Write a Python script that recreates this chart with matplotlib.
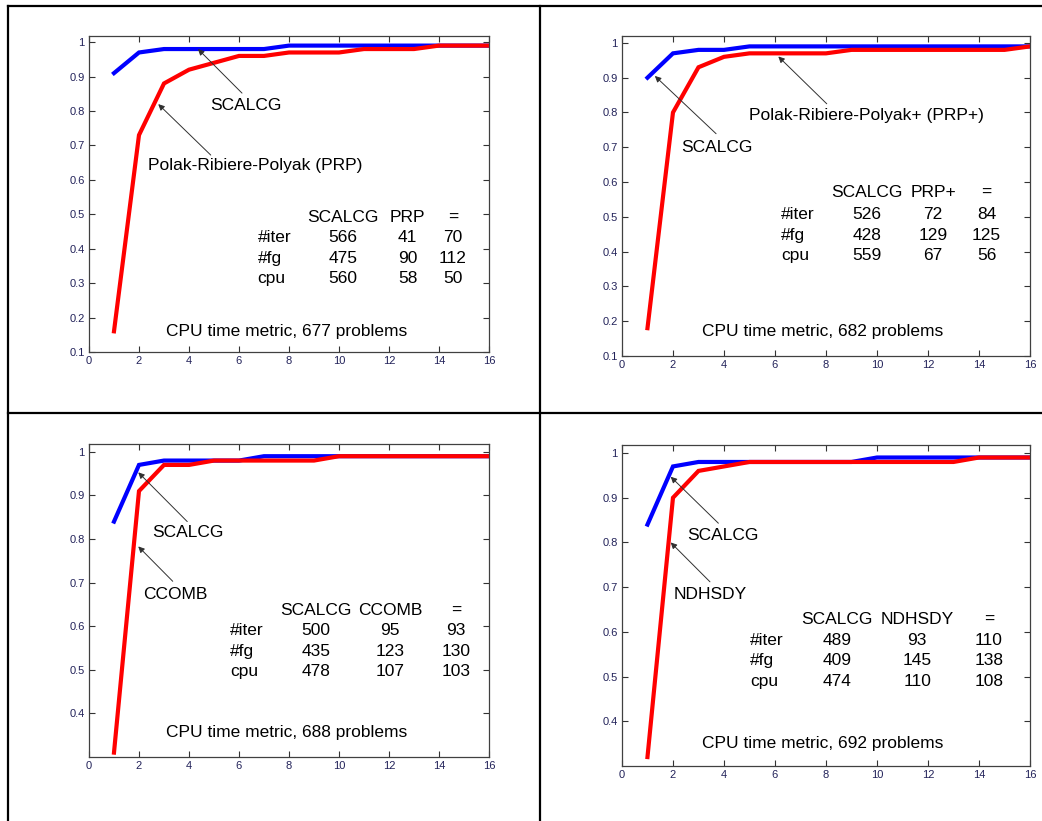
import matplotlib
matplotlib.use("Agg")
import matplotlib.pyplot as plt
from matplotlib.lines import Line2D
import numpy as np

plt.rcParams["font.family"] = ["Liberation Sans", "DejaVu Sans"]

x = np.arange(1, 17)

# performance profiles, CPU time metric
scalcg_1 = [0.91, 0.97, 0.98, 0.98, 0.98, 0.98, 0.98, 0.99, 0.99, 0.99, 0.99, 0.99, 0.99, 0.99, 0.99, 0.99]
prp_1 = [0.16, 0.73, 0.88, 0.92, 0.94, 0.96, 0.96, 0.97, 0.97, 0.97, 0.98, 0.98, 0.98, 0.99, 0.99, 0.99]

scalcg_2 = [0.90, 0.97, 0.98, 0.98, 0.99, 0.99, 0.99, 0.99, 0.99, 0.99, 0.99, 0.99, 0.99, 0.99, 0.99, 0.99]
prpp_2 = [0.18, 0.80, 0.93, 0.96, 0.97, 0.97, 0.97, 0.97, 0.98, 0.98, 0.98, 0.98, 0.98, 0.98, 0.98, 0.99]

scalcg_3 = [0.84, 0.97, 0.98, 0.98, 0.98, 0.98, 0.99, 0.99, 0.99, 0.99, 0.99, 0.99, 0.99, 0.99, 0.99, 0.99]
ccomb_3 = [0.31, 0.91, 0.97, 0.97, 0.98, 0.98, 0.98, 0.98, 0.98, 0.99, 0.99, 0.99, 0.99, 0.99, 0.99, 0.99]

scalcg_4 = [0.84, 0.97, 0.98, 0.98, 0.98, 0.98, 0.98, 0.98, 0.98, 0.99, 0.99, 0.99, 0.99, 0.99, 0.99, 0.99]
ndhsdy_4 = [0.32, 0.90, 0.96, 0.97, 0.98, 0.98, 0.98, 0.98, 0.98, 0.98, 0.98, 0.98, 0.98, 0.99, 0.99, 0.99]

row_names = ["#iter", "#fg", "cpu"]
table_1 = [["566", "41", "70"], ["475", "90", "112"], ["560", "58", "50"]]
table_2 = [["526", "72", "84"], ["428", "129", "125"], ["559", "67", "56"]]
table_3 = [["500", "95", "93"], ["435", "123", "130"], ["478", "107", "103"]]
table_4 = [["489", "93", "110"], ["409", "145", "138"], ["474", "110", "108"]]

panels = [
    dict(rect=[0.0854, 0.5713, 0.3839, 0.3849], ylim=(0.1, 1.018), yticks=np.arange(0.1, 1.01, 0.1),
         a=scalcg_1, b=prp_1, other="PRP", table=table_1, nprob=677,
         labels=[("SCALCG", 6.28, 0.817, (6.12, 0.852), (4.36, 0.98)),
                 ("Polak-Ribiere-Polyak (PRP)", 6.66, 0.642, (4.87, 0.672), (2.77, 0.82))],
         tx=6.75, cols=[10.15, 12.75, 14.55], ty=[0.492, 0.432, 0.372, 0.313], cap=(7.92, 0.16)),
    dict(rect=[0.5969, 0.5664, 0.3916, 0.3898], ylim=(0.1, 1.02), yticks=np.arange(0.1, 1.01, 0.1),
         a=scalcg_2, b=prpp_2, other="PRP+", table=table_2, nprob=682,
         labels=[("Polak-Ribiere-Polyak+ (PRP+)", 9.58, 0.791, (8.03, 0.825), (6.13, 0.961)),
                 ("SCALCG", 3.73, 0.698, (3.69, 0.739), (1.29, 0.905))],
         tx=6.24, cols=[9.6, 12.2, 14.3], ty=[0.569, 0.507, 0.447, 0.388], cap=(7.88, 0.171)),
    dict(rect=[0.0854, 0.0780, 0.3839, 0.3812], ylim=(0.3, 1.018), yticks=np.arange(0.4, 1.01, 0.1),
         a=scalcg_3, b=ccomb_3, other="CCOMB", table=table_3, nprob=688,
         labels=[("SCALCG", 3.95, 0.814, (3.93, 0.84), (1.97, 0.953)),
                 ("CCOMB", 3.45, 0.672, (3.35, 0.703), (1.97, 0.783))],
         tx=5.64, cols=[9.07, 12.04, 14.67], ty=[0.637, 0.59, 0.543, 0.497], cap=(7.92, 0.357)),
    dict(rect=[0.5969, 0.0670, 0.3916, 0.3910], ylim=(0.3, 1.018), yticks=np.arange(0.4, 1.01, 0.1),
         a=scalcg_4, b=ndhsdy_4, other="NDHSDY", table=table_4, nprob=692,
         labels=[("SCALCG", 3.96, 0.816, (3.78, 0.843), (1.91, 0.947)),
                 ("NDHSDY", 3.45, 0.684, (3.45, 0.712), (1.91, 0.80))],
         tx=5.02, cols=[8.44, 11.58, 14.39], ty=[0.627, 0.581, 0.535, 0.488], cap=(7.88, 0.35)),
]

fig = plt.figure(figsize=(10.42, 8.21), dpi=100)

# cell borders of the surrounding table
W, H = 1042, 821
for (x0, y0, x1, y1) in [(8, 6, 1042, 6), (8, 413, 1042, 413), (8, 6, 8, 821), (540, 6, 540, 821)]:
    fig.add_artist(Line2D([x0 / W, x1 / W], [1 - y0 / H, 1 - y1 / H], color="black", lw=1.6))

fs = 12.5
tick_col = "#23235a"
for p in panels:
    ax = fig.add_axes(p["rect"])
    ax.plot(x, p["a"], color="#0000ff", lw=3, solid_joinstyle="miter")
    ax.plot(x, p["b"], color="#ff0000", lw=3, solid_joinstyle="miter")
    ax.set_xlim(0, 16)
    ax.set_ylim(*p["ylim"])
    ax.set_xticks(np.arange(0, 17, 2))
    ax.set_yticks(p["yticks"])
    ax.set_yticklabels(["%g" % round(v, 1) for v in p["yticks"]])
    ax.tick_params(direction="in", length=4, width=0.8, top=True, right=True,
                   labelsize=8, colors="#333333", labelcolor=tick_col, pad=3)
    for s in ax.spines.values():
        s.set_color("#404040")
        s.set_linewidth(0.9)

    for txt, lx, ly, tail, head in p["labels"]:
        ax.text(lx, ly, txt, fontsize=fs, ha="center", va="center")
        ax.annotate("", xy=head, xytext=tail,
                    arrowprops=dict(arrowstyle="-|>", color="#303030", lw=0.7,
                                    mutation_scale=9, shrinkA=0, shrinkB=0))

    ty = p["ty"]
    headers = ["SCALCG", p["other"], "="]
    for c, h in zip(p["cols"], headers):
        ax.text(c, ty[0], h, fontsize=fs, ha="center", va="center")
    for r, name in enumerate(row_names):
        ax.text(p["tx"], ty[r + 1], name, fontsize=fs, ha="left", va="center")
        for c, val in zip(p["cols"], p["table"][r]):
            ax.text(c, ty[r + 1], val, fontsize=fs, ha="center", va="center")

    ax.text(p["cap"][0], p["cap"][1], "CPU time metric, %d problems" % p["nprob"],
            fontsize=fs, ha="center", va="center")

fig.savefig("out.png", dpi=100)
